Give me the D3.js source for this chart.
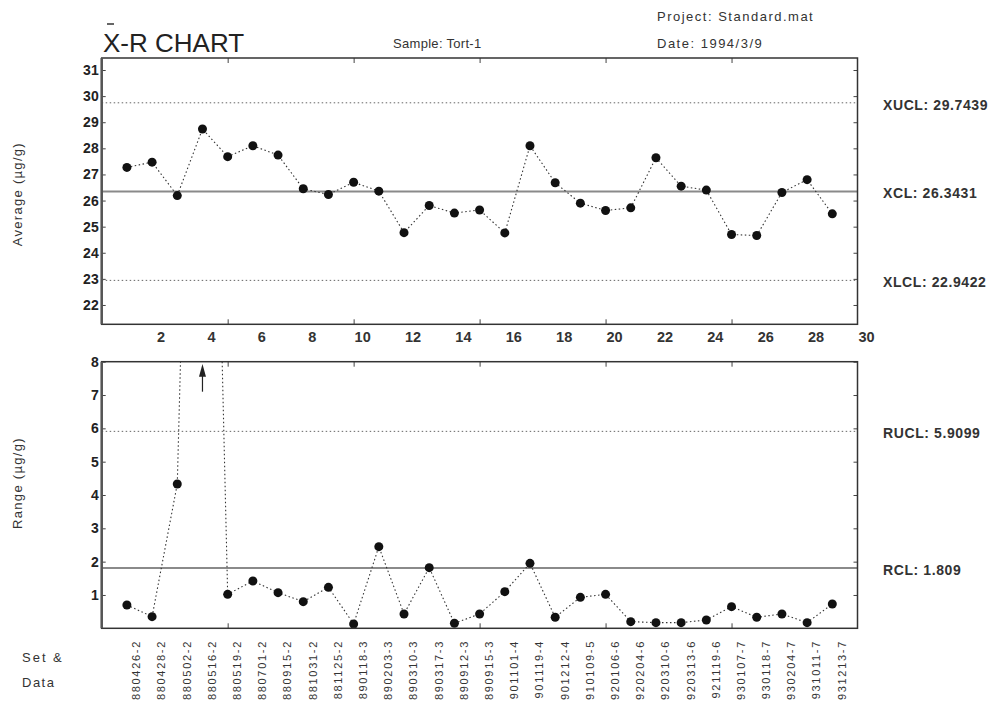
<!DOCTYPE html>
<html>
<head>
<meta charset="utf-8">
<script src="https://cdn.jsdelivr.net/npm/d3@7/dist/d3.min.js"></script>
<style>
  body { margin: 0; background: #fff; }
  svg { display: block; font-family: "Liberation Sans", Arial, sans-serif; }
  .tick text { fill: #222; }
  .axis-line path { display: none; }
  .axis-line line { stroke: #444; stroke-width: 1; }
</style>
</head>
<body>
<div id="chart"></div>
<script>
// ---- data ----
const sampleNo = d3.range(1, 30);
const setDates = [
  '880426-2', '880428-2', '880502-2', '880516-2', '880519-2', '880701-2', '880915-2',
  '881031-2', '881125-2', '890118-3', '890203-3', '890310-3', '890317-3', '890912-3',
  '890915-3', '901101-4', '901119-4', '901212-4', '910109-5', '920106-6', '920204-6',
  '920310-6', '920313-6', '921119-6', '930107-7', '930118-7', '930204-7', '931011-7',
  '931213-7'
];
const averages = [
  27.27, 27.47, 26.19, 28.74, 27.68, 28.10, 27.74, 26.45, 26.23, 26.70,
  26.36, 24.77, 25.81, 25.52, 25.64, 24.76, 28.10, 26.68, 25.90, 25.62,
  25.72, 27.64, 26.55, 26.40, 24.70, 24.66, 26.31, 26.80, 25.49
];
const ranges = [
  0.70, 0.35, 4.33, 33.0, 1.02, 1.42, 1.07, 0.80, 1.23, 0.13,
  2.45, 0.43, 1.82, 0.15, 0.43, 1.10, 1.95, 0.33, 0.93, 1.02,
  0.20, 0.17, 0.17, 0.25, 0.65, 0.33, 0.43, 0.17, 0.73
];
const xTickLabels = d3.range(2, 31, 2);
const xMinorTicks = [5, 10, 15, 20, 25];
const avgTicks = d3.range(22, 32);
const rangeTicks = d3.range(1, 9);
const xLimitNames = ['XUCL', 'XCL', 'XLCL'];
const xLimitValues = [29.7439, 26.3431, 22.9422];
const rLimitNames = ['RUCL', 'RCL'];
const rLimitValues = [5.9099, 1.809];

const width = 1003, height = 704;
const left = 101.7, right = 857.5;

const svg = d3.select('#chart').append('svg')
    .attr('width', width)
    .attr('height', height);

const xScale = d3.scaleLinear().domain([0, 30]).range([left, right]);

// one panel = frame, ticks, control lines, dotted run line and dots
function drawPanel(cfg) {
  const y = d3.scaleLinear().domain(cfg.domain).range([cfg.bottom, cfg.top]);
  const g = svg.append('g');

  const clipId = 'clip-' + cfg.id;
  svg.append('clipPath').attr('id', clipId)
    .append('rect')
      .attr('x', left).attr('y', cfg.top)
      .attr('width', right - left).attr('height', cfg.bottom - cfg.top);

  // left axis: labels outside, little ticks inside
  g.append('g')
      .attr('class', 'axis-line')
      .attr('transform', `translate(${left},0)`)
      .call(d3.axisLeft(y).tickValues(cfg.ticks).tickSizeInner(-4).tickSizeOuter(0).tickPadding(3))
      .call(a => a.selectAll('text').style('font-size', '14px').style('font-weight', 'bold').attr('fill', '#333'));

  // right axis: ticks only
  g.append('g')
      .attr('class', 'axis-line')
      .attr('transform', `translate(${right},0)`)
      .call(d3.axisRight(y).tickValues(cfg.ticks).tickSizeInner(-4).tickSizeOuter(0).tickFormat(''));

  // top and bottom ticks every 5 samples
  g.append('g')
      .attr('class', 'axis-line')
      .attr('transform', `translate(0,${cfg.top})`)
      .call(d3.axisTop(xScale).tickValues(xMinorTicks).tickSizeInner(-5).tickSizeOuter(0).tickFormat(''));
  g.append('g')
      .attr('class', 'axis-line')
      .attr('transform', `translate(0,${cfg.bottom})`)
      .call(d3.axisBottom(xScale).tickValues(xMinorTicks).tickSizeInner(-5).tickSizeOuter(0).tickFormat(''));

  // control lines
  cfg.limitValues.forEach((v, i) => {
    const isCenter = i === cfg.centerIndex;
    g.append('line')
        .attr('x1', left).attr('x2', right)
        .attr('y1', y(v)).attr('y2', y(v))
        .attr('stroke', isCenter ? '#8a8a8a' : '#666')
        .attr('stroke-width', isCenter ? 2 : 1)
        .attr('stroke-dasharray', isCenter ? null : '1.5,2.5');
    svg.append('text')
        .attr('x', 883)
        .attr('y', y(v) + 2)
        .attr('dy', '0.35em')
        .style('font-size', '14px')
        .style('font-weight', 'bold')
        .style('letter-spacing', '0.6px')
        .attr('fill', '#333')
        .text(`${cfg.limitNames[i]}: ${v}`);
  });

  // run line + dots, clipped to the frame
  const pts = sampleNo.map((s, i) => [s, cfg.values[i]]);
  const inner = g.append('g').attr('clip-path', `url(#${clipId})`);
  inner.append('path')
      .datum(pts)
      .attr('fill', 'none')
      .attr('stroke', '#333')
      .attr('stroke-width', 1.1)
      .attr('stroke-dasharray', '1.5,2.5')
      .attr('d', d3.line().x(d => xScale(d[0])).y(d => y(d[1])));
  inner.selectAll('circle')
    .data(pts)
    .join('circle')
      .attr('cx', d => xScale(d[0]))
      .attr('cy', d => y(d[1]))
      .attr('r', 4.5)
      .attr('fill', '#111');

  // frame
  g.append('rect')
      .attr('x', left).attr('y', cfg.top)
      .attr('width', right - left).attr('height', cfg.bottom - cfg.top)
      .attr('fill', 'none')
      .attr('stroke', '#333')
      .attr('stroke-width', 1.5);
  g.append('line')
      .attr('x1', left).attr('x2', left)
      .attr('y1', cfg.top).attr('y2', cfg.bottom)
      .attr('stroke', '#555')
      .attr('stroke-width', 2.5);

  // rotated axis title
  svg.append('text')
      .attr('transform', `translate(17,${(cfg.top + cfg.bottom) / 2 + cfg.titleShift}) rotate(-90)`)
      .attr('text-anchor', 'middle')
      .attr('dy', '0.35em')
      .style('font-size', '13px')
      .style('letter-spacing', '1.3px')
      .attr('fill', '#333')
      .text(cfg.title);

  return y;
}

drawPanel({
  id: 'avg', top: 58, bottom: 324.3, domain: [21.26, 31.46], ticks: avgTicks,
  values: averages, limitNames: xLimitNames, limitValues: xLimitValues, centerIndex: 1,
  title: 'Average (\u00b5g/g)', titleShift: 3
});

const rScale = drawPanel({
  id: 'rng', top: 361.7, bottom: 628.3, domain: [0, 8], ticks: rangeTicks,
  values: ranges, limitNames: rLimitNames, limitValues: rLimitValues, centerIndex: 1,
  title: 'Range (\u00b5g/g)', titleShift: -12
});

// x tick numbers under the top panel (printed a little right of the samples)
svg.append('g')
  .selectAll('text')
  .data(xTickLabels)
  .join('text')
    .attr('x', d => xScale(d) + 9)
    .attr('y', 342)
    .attr('text-anchor', 'middle')
    .style('font-size', '14.5px')
    .style('font-weight', 'bold')
    .attr('fill', '#333')
    .text(d => d);

// off-scale marker for sample 4
const arrowX = xScale(4);
svg.append('line')
    .attr('x1', arrowX).attr('x2', arrowX)
    .attr('y1', rScale(7.1)).attr('y2', rScale(7.7))
    .attr('stroke', '#222').attr('stroke-width', 1.2);
svg.append('path')
    .attr('d', `M${arrowX},${rScale(7.93)} L${arrowX - 3.5},${rScale(7.55)} L${arrowX + 3.5},${rScale(7.55)} Z`)
    .attr('fill', '#222');

// set & date labels
svg.append('g')
  .selectAll('text')
  .data(sampleNo)
  .join('text')
    .attr('transform', d => `translate(${xScale(d) + 9.5},640) rotate(-90)`)
    .attr('text-anchor', 'end')
    .attr('dy', '0.35em')
    .style('font-size', '11px')
    .style('letter-spacing', '1.7px')
    .attr('fill', '#333')
    .text((d, i) => setDates[i]);

svg.append('text').attr('x', 22).attr('y', 662)
    .style('font-size', '13px').style('letter-spacing', '2px').attr('fill', '#333')
    .text('Set &');
svg.append('text').attr('x', 22).attr('y', 687)
    .style('font-size', '13px').style('letter-spacing', '1.5px').attr('fill', '#333')
    .text('Data');

// headings
svg.append('text').attr('x', 103).attr('y', 52)
    .style('font-size', '26px').attr('fill', '#222')
    .text('X-R CHART');
svg.append('line')
    .attr('x1', 107).attr('x2', 114).attr('y1', 24).attr('y2', 24)
    .attr('stroke', '#333').attr('stroke-width', 1.5);
svg.append('text').attr('x', 393).attr('y', 48)
    .style('font-size', '13px').style('letter-spacing', '0.3px').attr('fill', '#333')
    .text('Sample: Tort-1');
svg.append('text').attr('x', 657).attr('y', 21)
    .style('font-size', '13px').style('letter-spacing', '1.5px').attr('fill', '#333')
    .text('Project: Standard.mat');
svg.append('text').attr('x', 657).attr('y', 48)
    .style('font-size', '13px').style('letter-spacing', '1.5px').attr('fill', '#333')
    .text('Date: 1994/3/9');
</script>
</body>
</html>
